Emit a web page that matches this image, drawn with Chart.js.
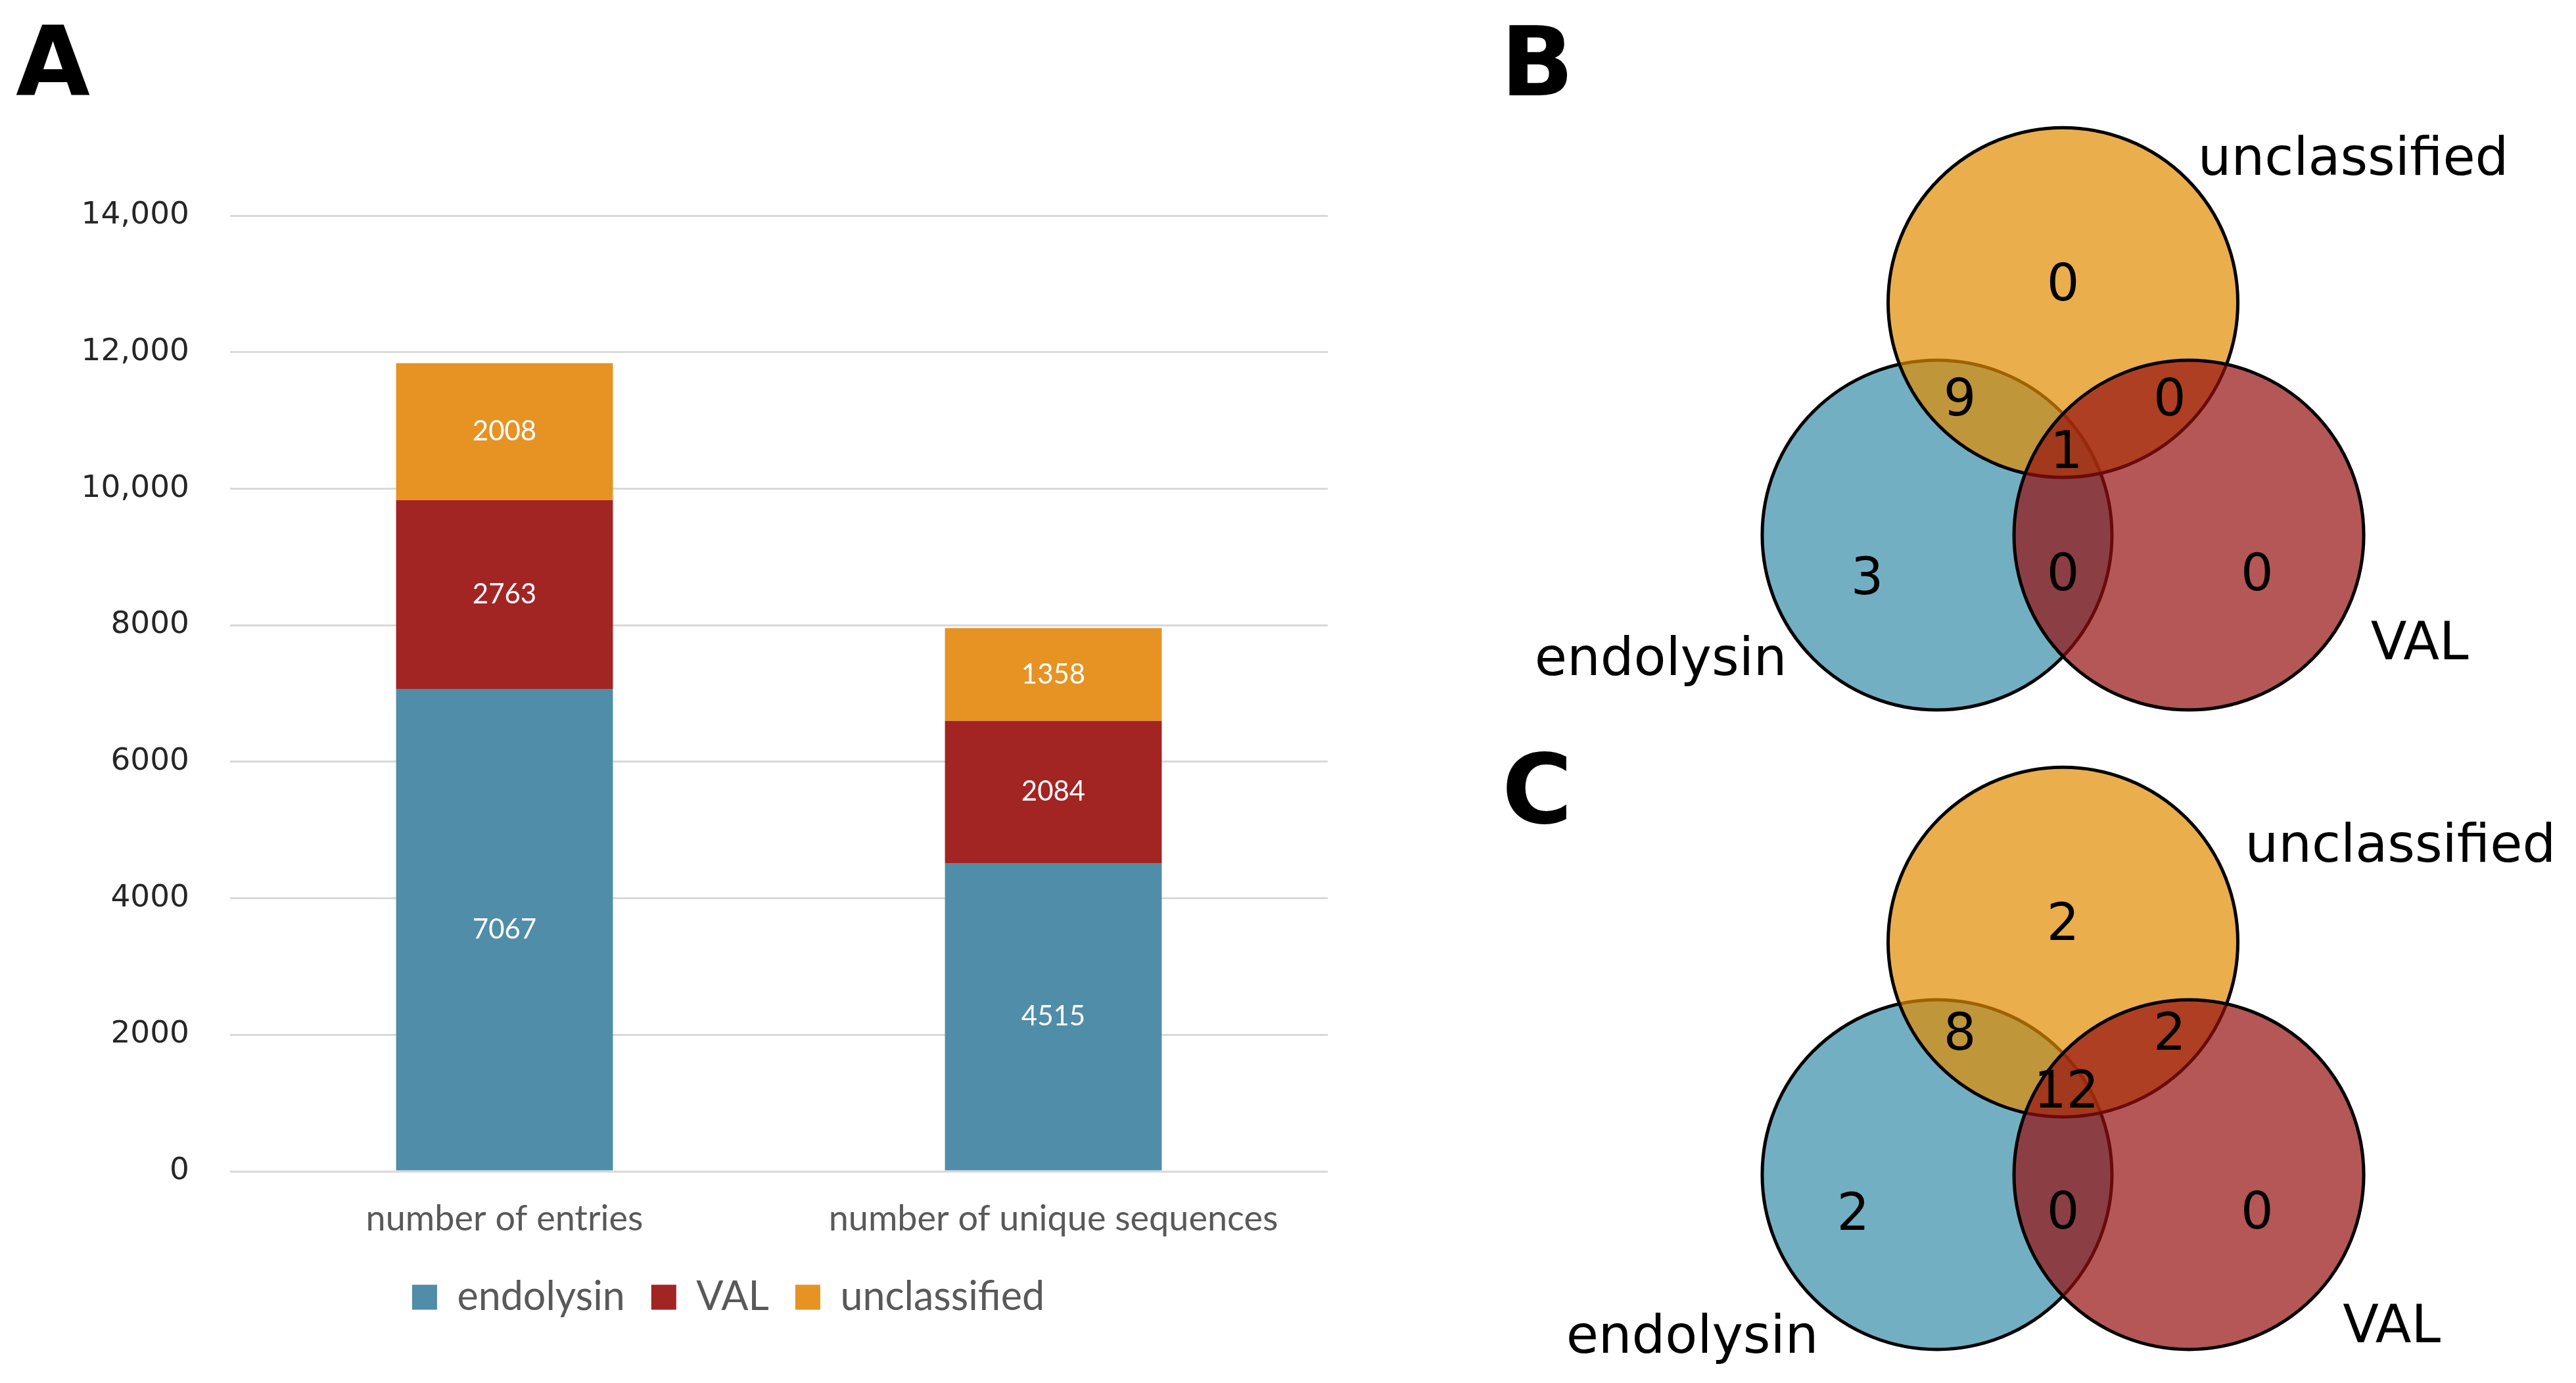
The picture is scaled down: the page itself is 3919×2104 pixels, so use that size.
<!DOCTYPE html>
<html>
<head>
<meta charset="utf-8">
<script src="https://cdn.jsdelivr.net/npm/chart.js@4.4.1/dist/chart.umd.min.js"></script>
<style>
  html, body { margin: 0; padding: 0; background: #fff; }
  body { width: 3919px; height: 2104px; position: relative; overflow: hidden; }
  .panel { position: absolute; }
  .letter { position: absolute; font-family: 'DejaVu Sans'; font-weight: bold; font-size: 146px; line-height: 1; color: #000; }
</style>
</head>
<body>
<div class="panel" style="left:0;top:0"><canvas id="bar-chart" width="2250" height="2104"></canvas></div>
<div class="panel" style="left:2250px;top:0"><canvas id="venn-b" width="1669" height="1120"></canvas></div>
<div class="panel" style="left:2250px;top:1052px"><canvas id="venn-c" width="1669" height="1052"></canvas></div>
<div class="letter" style="left:24px;top:20px">A</div>
<div class="letter" style="left:2283px;top:21px">B</div>
<div class="letter" style="left:2285px;top:1128px">C</div>
<script>
// panel A values
const categories = ['number of entries', 'number of unique sequences']
const endolysin = [7067, 4515]
const val = [2763, 2084]
const unclassified = [2008, 1358]
const yTickLabels = ['0', '2000', '4000', '6000', '8000', '10,000', '12,000', '14,000']

// panels B and C: set names and region counts
const vennSets = ['endolysin', 'unclassified', 'VAL']
// regions: unclassified only, unclassified+endolysin, unclassified+VAL, all three,
// endolysin only, endolysin+VAL, VAL only
const vennCountsB = [0, 9, 0, 1, 3, 0, 0]
const vennCountsC = [2, 8, 2, 12, 2, 0, 0]

// venn geometry, in circle radii
const circleCentres = [[-0.72, 0], [0, 1.33], [0.72, 0]]
const regionSpotsB = [[0, 1.45], [-0.59, 0.79], [0.61, 0.79], [0.02, 0.49], [-1.12, -0.23], [0, -0.21], [1.11, -0.21]]
const regionSpotsC = [[0, 1.45], [-0.59, 0.82], [0.61, 0.82], [0.02, 0.49], [-1.2, -0.21], [0, -0.2], [1.11, -0.2]]
const nameSpotsB = [[-2.3, -0.8], [1.66, 2.06], [2.04, -0.71]]
const nameSpotsC = [[-2.12, -1.02], [1.93, 1.79], [1.88, -0.96]]

const barColors = ['#4f8da8', '#a22423', '#e69323']
const vennFills = ['rgba(56,141,168,0.7)', 'rgba(225,139,1,0.7)', 'rgba(149,16,16,0.7)']

const segmentLabels = {
  id: 'segmentLabels',
  afterDatasetsDraw(chart) {
    const ctx = chart.ctx
    ctx.save()
    ctx.fillStyle = '#fff'
    ctx.font = '42px Lato'
    ctx.textAlign = 'center'
    ctx.textBaseline = 'middle'
    chart.data.datasets.forEach((ds, i) => {
      chart.getDatasetMeta(i).data.forEach((bar, j) => {
        const { x, y, base } = bar.getProps(['x', 'y', 'base'], true)
        ctx.fillText(ds.data[j], x, (y + base) / 2)
      })
    })
    ctx.restore()
  }
}

// the legend sits a bit left of the plot centre, as in the original
const legendShift = {
  id: 'legendShift',
  afterLayout(chart) {
    if (chart.legend) chart.legend.left = 196
  }
}

new Chart(document.getElementById('bar-chart'), {
  type: 'bar',
  data: {
    labels: categories,
    datasets: [
      { label: 'endolysin', data: endolysin, backgroundColor: barColors[0] },
      { label: 'VAL', data: val, backgroundColor: barColors[1] },
      { label: 'unclassified', data: unclassified, backgroundColor: barColors[2] }
    ]
  },
  options: {
    responsive: false,
    animation: false,
    devicePixelRatio: 1,
    events: [],
    categoryPercentage: 1,
    barPercentage: 0.395,
    layout: { padding: { left: 0, right: 230, top: 328, bottom: 90 } },
    scales: {
      x: {
        stacked: true,
        grid: { display: false, drawTicks: false },
        border: { display: false },
        ticks: { color: '#595959', font: { family: 'Lato', size: 54 }, padding: 40, maxRotation: 0, autoSkip: false },
        afterFit: s => { s.height = 121 }
      },
      y: {
        stacked: true,
        min: 0,
        max: 14000,
        grid: { color: '#d9d9d9', lineWidth: 3, drawTicks: false },
        border: { display: false },
        ticks: {
          stepSize: 2000,
          padding: 62,
          color: '#262626',
          font: { family: 'DejaVu Sans', size: 47 },
          callback: (v, i) => yTickLabels[i]
        },
        afterFit: s => { s.width = 350 }
      }
    },
    plugins: {
      legend: {
        position: 'bottom',
        labels: { color: '#595959', font: { family: 'Lato', size: 61 }, boxWidth: 38, boxHeight: 38, padding: 40 }
      },
      tooltip: { enabled: false }
    }
  },
  plugins: [segmentLabels, legendShift]
})

function vennText(counts, spots, nameSpots) {
  return {
    id: 'vennText',
    afterDatasetsDraw(chart) {
      const { ctx, scales: { x, y } } = chart
      ctx.save()
      ctx.fillStyle = '#000'
      ctx.textAlign = 'center'
      ctx.textBaseline = 'alphabetic'
      ctx.font = '78px "DejaVu Sans"'
      counts.forEach((n, i) => {
        ctx.fillText(String(n), x.getPixelForValue(spots[i][0]), y.getPixelForValue(spots[i][1]) + 78 * 0.3645)
      })
      ctx.font = '80px "DejaVu Sans"'
      vennSets.forEach((name, i) => {
        ctx.fillText(name, x.getPixelForValue(nameSpots[i][0]), y.getPixelForValue(nameSpots[i][1]))
      })
      ctx.restore()
    }
  }
}

function venn(id, counts, spots, nameSpots, yMin, yMax) {
  return new Chart(document.getElementById(id), {
    type: 'scatter',
    data: {
      datasets: [{
        data: circleCentres.map(c => ({ x: c[0], y: c[1] })),
        backgroundColor: vennFills,
        borderColor: '#000',
        borderWidth: 5,
        // one unit on the x scale is one circle radius
        radius: ctx => {
          if (!ctx.chart.chartArea) return 0
          const s = ctx.chart.scales.x
          return s.getPixelForValue(1) - s.getPixelForValue(0)
        },
        clip: false
      }]
    },
    options: {
      responsive: false,
      animation: false,
      devicePixelRatio: 1,
      events: [],
      layout: { padding: 0 },
      scales: {
        x: { type: 'linear', display: false, min: -3.34, max: 2.934 },
        y: { type: 'linear', display: false, min: yMin, max: yMax }
      },
      plugins: { legend: { display: false }, tooltip: { enabled: false } }
    },
    plugins: [vennText(counts, spots, nameSpots)]
  })
}

venn('venn-b', vennCountsB, regionSpotsB, nameSpotsB, -1.15, 3.06)
venn('venn-c', vennCountsC, regionSpotsC, nameSpotsC, -1.192, 2.763)
</script>
</body>
</html>
